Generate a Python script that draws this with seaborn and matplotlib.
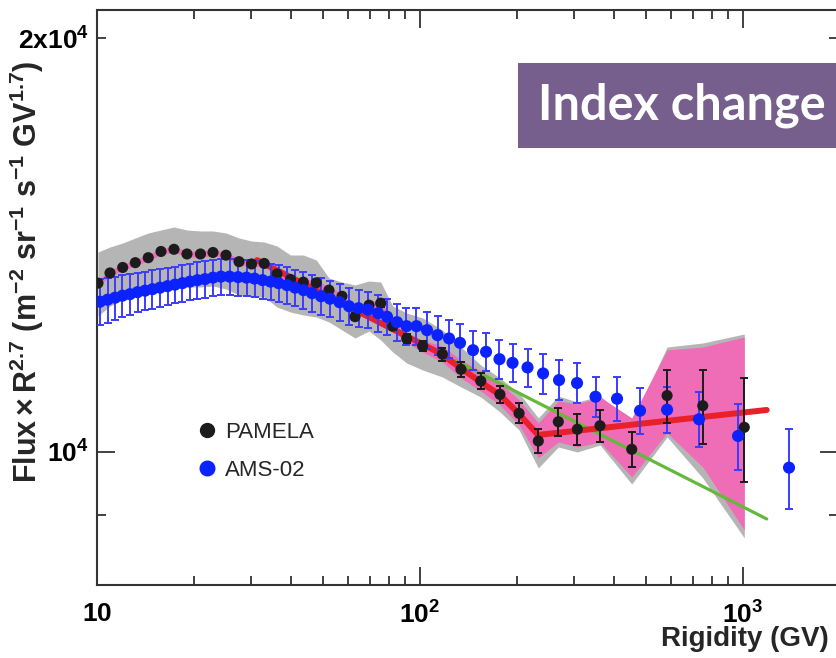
import matplotlib
matplotlib.use("Agg")
import matplotlib.pyplot as plt
from matplotlib.ticker import FixedLocator, FixedFormatter, NullFormatter
from matplotlib.lines import Line2D
from matplotlib.patches import Rectangle
import seaborn as sns

sns.set_theme(style="ticks")
plt.rcParams["font.family"] = ["Liberation Sans", "DejaVu Sans"]
plt.rcParams["mathtext.fontset"] = "custom"
plt.rcParams["mathtext.rm"] = "Liberation Sans"
plt.rcParams["mathtext.bf"] = "Liberation Sans:bold"
plt.rcParams["mathtext.it"] = "Liberation Sans:italic"

# ---------------- PAMELA proton flux x R^2.7 ----------------
pamela_R = [10.07, 10.97, 12.01, 13.14, 14.41, 15.78, 17.31, 18.99, 20.91, 22.86,
            25.08, 27.52, 30.09, 32.94, 36.08, 39.72, 43.52, 47.74, 52.26, 57.35,
            62.91, 69.53, 75.56, 82.32, 90.94, 101.9, 117.3, 133.9, 154.2, 176.8,
            202.6, 232.4, 268.0, 306.9, 360.8, 452.3, 582.0, 750.4, 1009]
pamela_flux = [13268, 13496, 13621, 13731, 13846, 13991, 14042, 13932, 13932, 13967,
               13904, 13754, 13701, 13713, 13474, 13350, 13290, 13275, 13113, 12980,
               12543, 12787, 12830, 12346, 12090, 11940, 11781, 11485, 11262, 11013,
               10669, 10186, 10520, 10388, 10450, 10045, 10991, 10806, 10422]
pamela_err = [55] * 20 + [70, 70, 75, 80, 85, 95, 130, 145, 150, 160,
                          180, 205, 250, 265, 285, 290, 490, 670, 905]

# systematic uncertainty band (grey)
sys_hi = [13978, 14096, 14191, 14310, 14431, 14503, 14576, 14503, 14479, 14479,
          14431, 14310, 14238, 14214, 14119, 13908, 13908, 13792, 13383, 13293,
          13227, 13316, 13293, 12770, 12621, 12516, 12267, 11922, 11568, 11319,
          11038, 10586, 10983, 10873, 10983, 10515, 11922, 12003, 12185]
sys_lo = [12558, 12770, 12899, 12985, 13095, 13227, 13271, 13183, 13183, 13205,
          13138, 13007, 12964, 12964, 12748, 12642, 12579, 12537, 12432, 12267,
          12103, 12246, 12063, 11823, 11607, 11472, 11338, 11150, 10965, 10693,
          10375, 9736, 10084, 10000, 10118, 9478, 10255, 9574, 8659]

# tracker alignment band (pink)
trk_hi = [13334, 13563, 13689, 13800, 13915, 14061, 14112, 14002, 14002, 14037,
          13974, 13823, 13769, 13782, 13541, 13417, 13356, 13341, 13179, 13045,
          12618, 12864, 12907, 12433, 12175, 12060, 11942, 11666, 11453, 11225,
          10910, 10498, 10892, 10837, 10965, 10586, 11863, 11922, 12124]
trk_lo = [13202, 13429, 13553, 13662, 13777, 13921, 13972, 13862, 13862, 13897,
          13834, 13685, 13633, 13644, 13407, 13283, 13224, 13209, 13047, 12915,
          12468, 12710, 12753, 12259, 12005, 11821, 11627, 11319, 11075, 10819,
          10463, 9900, 10169, 10084, 10169, 9590, 10323, 9752, 8776]

# ---------------- AMS-02 proton flux x R^2.7 ----------------
ams_R = [10.22, 10.78, 11.37, 11.99, 12.65, 13.35, 14.08, 14.85, 15.67, 16.53,
         17.43, 18.39, 19.40, 20.46, 21.59, 22.86, 24.20, 25.72, 27.33, 29.03,
         30.74, 32.54, 34.45, 36.47, 38.75, 41.02, 43.58, 46.30, 49.37, 52.63,
         56.34, 60.29, 64.51, 69.03, 74.13, 79.03, 84.87, 90.81, 97.52, 105.1,
         113.3, 123.0, 133.0, 145.9, 160.1, 176.2, 193.4, 215.2, 240.4, 269.4,
         306.3, 349.4, 407.3, 479.9, 582.0, 730.8, 965.0, 1388]
ams_flux = [12862, 12905, 12949, 12993, 13025, 13069, 13102, 13135, 13168, 13201,
            13235, 13268, 13302, 13335, 13357, 13391, 13414, 13414, 13402, 13391,
            13369, 13335, 13302, 13268, 13224, 13168, 13113, 13047, 12980, 12926,
            12851, 12765, 12723, 12691, 12617, 12543, 12429, 12346, 12346, 12263,
            12161, 12094, 12005, 11859, 11826, 11682, 11610, 11521, 11406, 11280,
            11224, 10970, 10933, 10716, 10734, 10563, 10272, 9741]
ams_err = [500, 485, 465, 455, 443, 431, 426, 420, 415, 409,
           404, 405, 406, 407, 407, 408, 409, 409, 409, 408,
           408, 407, 406, 405, 403, 402, 400, 398, 396, 394,
           392, 389, 388, 387, 385, 383, 379, 377, 377, 374,
           389, 387, 384, 379, 378, 374, 372, 369, 382, 378,
           376, 373, 405, 418, 419, 486, 565, 650]

# ---------------- fits ----------------
fit_R = [31.3, 115, 153.4, 176.9, 201.5, 232, 1184]
fit_broken = [13790, 11803, 11249, 11002, 10670, 10289, 10729]
single_R = [31.3, 1184]
single_flux = [13790, 8939]

C_GREY = "#b5b5b5"
C_PINK = "#ef6db6"
C_RED = "#e8202a"
C_GREEN = "#64b83a"
C_BLACK = "#1c1c1c"
C_BLUE = "#0b22ff"
C_BLUE_BAR = "#3b3bff"
C_AXIS = "#333333"

fig = plt.figure(figsize=(8.36, 6.58), dpi=100)
ax = fig.add_axes([97 / 836, 73 / 658, 741 / 836, 575 / 658])
ax.set_xscale("log")
ax.set_yscale("log")

ax.fill_between(pamela_R, sys_lo, sys_hi, color=C_GREY, lw=0, zorder=1)
ax.fill_between(pamela_R, trk_lo, trk_hi, color=C_PINK, lw=0, zorder=2)

sns.lineplot(x=single_R, y=single_flux, ax=ax, color=C_GREEN, lw=2.3,
             sort=False, estimator=None, zorder=3)
sns.lineplot(x=fit_R, y=fit_broken, ax=ax, color=C_RED, lw=4.3,
             sort=False, estimator=None, zorder=4)

ax.errorbar(ams_R, ams_flux, yerr=ams_err, fmt="none", ecolor=C_BLUE_BAR,
            elinewidth=1.4, capsize=2.8, capthick=1.4, zorder=5)
ax.errorbar(pamela_R, pamela_flux, yerr=pamela_err, fmt="none", ecolor=C_BLACK,
            elinewidth=1.4, capsize=2.8, capthick=1.4, zorder=6)
sns.scatterplot(x=pamela_R, y=pamela_flux, ax=ax, color=C_BLACK, s=64,
                edgecolor="none", zorder=7)
sns.scatterplot(x=ams_R, y=ams_flux, ax=ax, color=C_BLUE, s=76,
                edgecolor="none", zorder=8)

ax.set_xlim(10, 1968)
ax.set_ylim(8003, 20964)

# ticks
ax.xaxis.set_major_locator(FixedLocator([10, 100, 1000]))
ax.xaxis.set_major_formatter(FixedFormatter([r"$\mathbf{10}$", r"$\mathbf{10^2}$", r"$\mathbf{10^3}$"]))
ax.xaxis.set_minor_locator(FixedLocator([20, 30, 40, 50, 60, 70, 80, 90,
                                         200, 300, 400, 500, 600, 700, 800, 900]))
ax.xaxis.set_minor_formatter(NullFormatter())
ax.yaxis.set_major_locator(FixedLocator([1e4]))
ax.yaxis.set_major_formatter(FixedFormatter([r"$\mathbf{10^4}$"]))
ax.yaxis.set_minor_locator(FixedLocator([9000, 2e4]))
ax.yaxis.set_minor_formatter(FixedFormatter(["", r"$\mathbf{2x10^4}$"]))

ax.tick_params(which="both", direction="in", top=True, right=True,
               colors=C_AXIS, width=1.3, labelsize=19, labelcolor="black")
ax.tick_params(which="major", length=13)
ax.tick_params(which="minor", length=6.5)
ax.tick_params(axis="x", which="both", pad=12)
ax.tick_params(axis="y", which="both", pad=6)
for side in ["left", "right", "top", "bottom"]:
    ax.spines[side].set_visible(True)
    ax.spines[side].set_color(C_AXIS)
    ax.spines[side].set_linewidth(1.5)

ax.set_xlabel("Rigidity (GV)", fontsize=20, fontweight="bold", ha="right")
ax.xaxis.set_label_coords(0.988, -0.072)
ax.set_ylabel(r"$\mathbf{Flux \times R^{2.7}\ (m^{-2}\ sr^{-1}\ s^{-1}\ GV^{1.7})}$",
              fontsize=22, va="center")
ax.yaxis.set_label_coords(-0.0945, 0.544)

handles = [Line2D([], [], marker="o", ls="", color=C_BLACK, ms=10, label="PAMELA"),
           Line2D([], [], marker="o", ls="", color=C_BLUE, ms=10.5, label="AMS-02")]
ax.legend(handles=handles, loc="upper left", bbox_to_anchor=(0.1336, 0.284),
          frameon=False, fontsize=16, handlelength=1.0, handletextpad=0.3,
          labelspacing=0.78, borderpad=0, borderaxespad=0)

# banner
fig.add_artist(Rectangle((518 / 836, (658 - 148) / 658), 0.4, 85 / 658,
                         transform=fig.transFigure, facecolor="#765f8c",
                         edgecolor="none", zorder=10))
fig.text(538 / 836, (658 - 120) / 658, "Index change", color="white",
         fontsize=35, fontweight="bold", family=["Lato", "DejaVu Sans"],
         ha="left", va="baseline", zorder=11)

fig.savefig("out.png", dpi=100)
